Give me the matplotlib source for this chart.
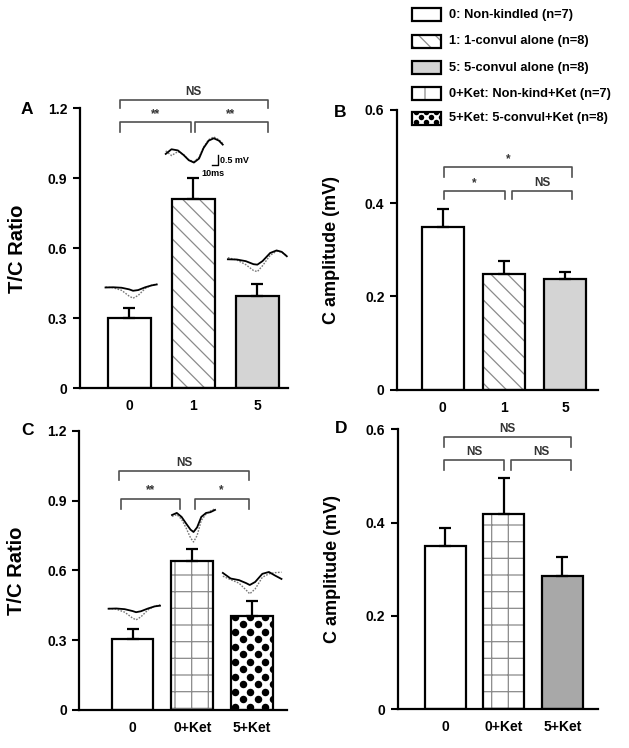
import numpy as np
import matplotlib
matplotlib.use("Agg")
import matplotlib.pyplot as plt
from matplotlib.patches import Rectangle

plt.rcParams['font.family'] = ['Liberation Sans', 'DejaVu Sans']
plt.rcParams['font.weight'] = 'bold'
plt.rcParams['hatch.linewidth'] = 0.9

# ---------------------------------------------------------------------------
# data
# ---------------------------------------------------------------------------
groups_top = ["0", "1", "5"]
groups_bottom = ["0", "0+Ket", "5+Ket"]

tc_top = [0.300, 0.813, 0.395]
tc_top_err = [0.042, 0.089, 0.052]
amp_top = [0.348, 0.249, 0.237]
amp_top_err = [0.040, 0.026, 0.015]
tc_bottom = [0.304, 0.642, 0.405]
tc_bottom_err = [0.043, 0.048, 0.065]
amp_bottom = [0.350, 0.419, 0.286]
amp_bottom_err = [0.039, 0.077, 0.041]

legend_labels = ["0: Non-kindled (n=7)", "1: 1-convul alone (n=8)",
                 "5: 5-convul alone (n=8)", "0+Ket: Non-kind+Ket (n=7)",
                 "5+Ket: 5-convul+Ket (n=8)"]

# brackets: (x1, x2, y, drop, label)
brackets_a = [(-0.15, 2.16, 1.236, 0.036, "NS"),
              (-0.15, 0.97, 1.143, 0.043, "**"),
              (1.02, 2.16, 1.143, 0.043, "**")]
brackets_b = [(0.02, 2.11, 0.477, 0.020, "*"),
              (0.02, 1.02, 0.426, 0.017, "*"),
              (1.13, 2.11, 0.426, 0.017, "NS")]
brackets_c = [(-0.22, 1.94, 1.028, 0.040, "NS"),
              (-0.19, 0.80, 0.909, 0.043, "**"),
              (1.04, 1.94, 0.909, 0.043, "*")]
brackets_d = [(-0.02, 2.15, 0.583, 0.020, "NS"),
              (-0.02, 1.01, 0.534, 0.021, "NS"),
              (1.12, 2.15, 0.534, 0.021, "NS")]

# sample waveform insets: (bar index, x offsets, solid trace, dotted trace)
traces_a = [
    (0, [-0.37, -0.25, -0.12, 0.0, 0.06, 0.14, 0.25, 0.35, 0.43],
     [0.432, 0.433, 0.431, 0.424, 0.418, 0.421, 0.433, 0.441, 0.445],
     [0.434, 0.431, 0.420, 0.395, 0.386, 0.398, 0.428, 0.442, 0.447]),
    (1, [-0.43, -0.34, -0.24, -0.15, -0.07, 0.01, 0.09, 0.16, 0.24, 0.32, 0.40, 0.46],
     [1.005, 1.025, 1.020, 1.000, 0.978, 0.968, 0.985, 1.030, 1.062, 1.072, 1.062, 1.045],
     [1.018, 0.998, 1.015, 1.002, 0.980, 0.972, 0.990, 1.034, 1.066, 1.078, 1.066, 1.050]),
    (2, [-0.46, -0.32, -0.18, -0.06, 0.0, 0.08, 0.20, 0.30, 0.38, 0.46],
     [0.553, 0.552, 0.545, 0.532, 0.530, 0.545, 0.580, 0.591, 0.585, 0.566],
     [0.560, 0.550, 0.530, 0.505, 0.500, 0.525, 0.570, 0.588, 0.584, 0.568]),
]
traces_c = [
    (0, [-0.40, -0.27, -0.13, 0.0, 0.06, 0.14, 0.26, 0.37, 0.46],
     [0.435, 0.436, 0.433, 0.425, 0.420, 0.424, 0.436, 0.445, 0.448],
     [0.436, 0.433, 0.420, 0.395, 0.387, 0.400, 0.430, 0.446, 0.452]),
    (1, [-0.34, -0.26, -0.18, -0.10, -0.03, 0.02, 0.08, 0.15, 0.23, 0.30, 0.38],
     [0.838, 0.847, 0.830, 0.800, 0.775, 0.765, 0.785, 0.830, 0.847, 0.850, 0.860],
     [0.832, 0.840, 0.820, 0.780, 0.740, 0.722, 0.750, 0.815, 0.842, 0.855, 0.865]),
    (2, [-0.49, -0.36, -0.22, -0.10, -0.04, 0.05, 0.17, 0.28, 0.38, 0.49],
     [0.589, 0.565, 0.558, 0.545, 0.537, 0.550, 0.585, 0.593, 0.578, 0.563],
     [0.575, 0.560, 0.545, 0.515, 0.499, 0.520, 0.570, 0.585, 0.590, 0.592]),
]

DPI = 100
fig = plt.figure(figsize=(6.29, 7.48), dpi=DPI)

# overlay axes in pixel coordinates for legend + panel letters
ov = fig.add_axes([0, 0, 1, 1], zorder=5)
ov.set_xlim(0, 629)
ov.set_ylim(748, 0)
ov.axis("off")

HATCH_GREY = "#8a8a8a"


def dot_fill(ax, patch, x_left, x_right, y_bot, y_top, step=15, dot=7.5):
    """Black dot texture clipped to a patch (the 5+Ket fill)."""
    (px0, py0) = ax.transData.transform((x_left, y_bot))
    (px1, py1) = ax.transData.transform((x_right, y_top))
    pts = []
    row = 0
    yy = min(py0, py1) + 3
    while yy < max(py0, py1) + step:
        off = 0 if row % 2 == 0 else step / 2
        xx = min(px0, px1) + 4 + off
        while xx < max(px0, px1) + step:
            pts.append((xx, yy))
            xx += step
        yy += step / 2
        row += 1
    pts = ax.transData.inverted().transform(np.array(pts))
    sc = ax.scatter(pts[:, 0], pts[:, 1], s=(dot * 72 / DPI) ** 2,
                    color="black", linewidths=0, zorder=2.5)
    sc.set_clip_path(patch)


def draw_bar(ax, x, h, width, style):
    face = {"0": "white", "1": "white", "5": "#d4d4d4", "0+Ket": "white",
            "5+Ket": "white", "grey": "#a8a8a8"}[style]
    hatch = {"1": "\\\\", "0+Ket": "+"}.get(style)
    if hatch:
        ax.bar(x, h, width, color=face, edgecolor=HATCH_GREY, hatch=hatch,
               linewidth=0, zorder=2)
    else:
        ax.bar(x, h, width, color=face, linewidth=0, zorder=2)
    bars = ax.bar(x, h, width, color="none", edgecolor="black",
                  linewidth=1.6, zorder=3)
    if style == "5+Ket":
        dot_fill(ax, bars[0], x - width / 2, x + width / 2, 0, h)


def panel(rect, xlim, width, vals, errs, styles, ticks, ticklabels, groups,
          ylabel, ylab_size, ylab_x, brackets, traces=None):
    ax = fig.add_axes(rect)
    ax.set_xlim(*xlim)
    ax.set_ylim(0, ticks[-1])
    pos = np.arange(len(vals))
    for p, v, s in zip(pos, vals, styles):
        draw_bar(ax, p, v, width, s)
    ax.errorbar(pos, vals, yerr=[np.zeros(len(errs)), errs], fmt="none",
                ecolor="black", elinewidth=1.6, capsize=4, capthick=1.6,
                zorder=4)
    for sp in ("top", "right"):
        ax.spines[sp].set_visible(False)
    for sp in ("left", "bottom"):
        ax.spines[sp].set_linewidth(1.6)
    ax.set_yticks(ticks)
    ax.set_yticklabels(ticklabels, fontsize=10, fontweight="bold")
    ax.set_xticks(pos)
    ax.set_xticklabels(groups, fontsize=10, fontweight="bold")
    ax.tick_params(axis="y", direction="out", length=5, width=1.5, pad=4)
    ax.tick_params(axis="x", length=0, pad=8)
    ax.set_ylabel(ylabel, fontsize=ylab_size, fontweight="bold")
    ax.yaxis.set_label_coords(ylab_x, 0.5)
    for x1, x2, y, drop, lab in brackets:
        ax.plot([x1, x1, x2, x2], [y - drop, y, y, y - drop], color="#505050",
                lw=1.2, clip_on=False, zorder=4)
        ax.annotate(lab, xy=((x1 + x2) / 2, y), xytext=(0, 1.5),
                    textcoords="offset points", ha="center", va="bottom",
                    fontsize=8.5, fontweight="bold", color="#333333",
                    annotation_clip=False)
    if traces:
        for idx, xs, solid, dotted in traces:
            xs = idx + np.array(xs)
            ax.plot(xs, dotted, color="#777777", lw=1.0, ls=(0, (1.2, 1.0)),
                    zorder=4, clip_on=False)
            ax.plot(xs, solid, color="black", lw=1.3, zorder=4, clip_on=False)
    return ax


ax_a = panel([0.127, 0.481, 0.331, 0.374], (-0.77, 2.48), 0.67,
             tc_top, tc_top_err, ["0", "1", "5"],
             [0, 0.3, 0.6, 0.9, 1.2], ["0", "0.3", "0.6", "0.9", "1.2"],
             groups_top, "T/C Ratio", 14.5, -0.255, brackets_a, traces_a)
# scale bar for the inset traces
ax_a.plot([1.289, 1.383, 1.383], [0.956, 0.956, 0.999], color="black", lw=1.0)
ax_a.text(1.42, 0.978, "0.5 mV", fontsize=6.5, fontweight="bold", va="center")
ax_a.text(1.31, 0.921, "10ms", fontsize=6.5, fontweight="bold", ha="center",
          va="center")

panel([0.631, 0.479, 0.320, 0.374], (-0.75, 2.54), 0.69,
      amp_top, amp_top_err, ["0", "1", "5"],
      [0, 0.2, 0.4, 0.6], ["0", "0.2", "0.4", "0.6"],
      groups_top, "C amplitude (mV)", 13, -0.284, brackets_b)

panel([0.126, 0.051, 0.331, 0.373], (-0.89, 2.59), 0.70,
      tc_bottom, tc_bottom_err, ["0", "0+Ket", "5+Ket"],
      [0, 0.3, 0.6, 0.9, 1.2], ["0", "0.3", "0.6", "0.9", "1.2"],
      groups_bottom, "T/C Ratio", 14.5, -0.255, brackets_c, traces_c)

panel([0.632, 0.052, 0.319, 0.374], (-0.81, 2.61), 0.70,
      amp_bottom, amp_bottom_err, ["0", "0+Ket", "grey"],
      [0, 0.2, 0.4, 0.6], ["0", "0.2", "0.4", "0.6"],
      groups_bottom, "C amplitude (mV)", 13, -0.284, brackets_d)

# panel letters
for lab, px, py in [("A", 27, 109), ("B", 340, 112), ("C", 28, 430), ("D", 341, 428)]:
    ov.text(px, py, lab, fontsize=12.5, fontweight="bold", ha="center", va="center")

# legend
leg_styles = ["0", "1", "5", "0+Ket", "5+Ket"]
leg_rows = [14.5, 41, 67.5, 93.5, 118]
for lab, st, yc in zip(legend_labels, leg_styles, leg_rows):
    face = {"5": "#d4d4d4"}.get(st, "white")
    hatch = {"1": "\\\\", "0+Ket": "|"}.get(st)
    if hatch:
        ov.add_patch(Rectangle((412, yc - 6.5), 29, 13, facecolor=face,
                               edgecolor=HATCH_GREY, hatch=hatch, lw=0))
    else:
        ov.add_patch(Rectangle((412, yc - 6.5), 29, 13, facecolor=face, lw=0))
    box = Rectangle((412, yc - 6.5), 29, 13, facecolor="none",
                    edgecolor="black", lw=1.6, zorder=3)
    ov.add_patch(box)
    if st == "5+Ket":
        dot_fill(ov, box, 412, 441, yc + 6.5, yc - 6.5, step=10, dot=5.5)
    ov.text(449, yc, lab, fontsize=9.3, fontweight="bold", va="center")

fig.savefig("out.png", dpi=DPI)
